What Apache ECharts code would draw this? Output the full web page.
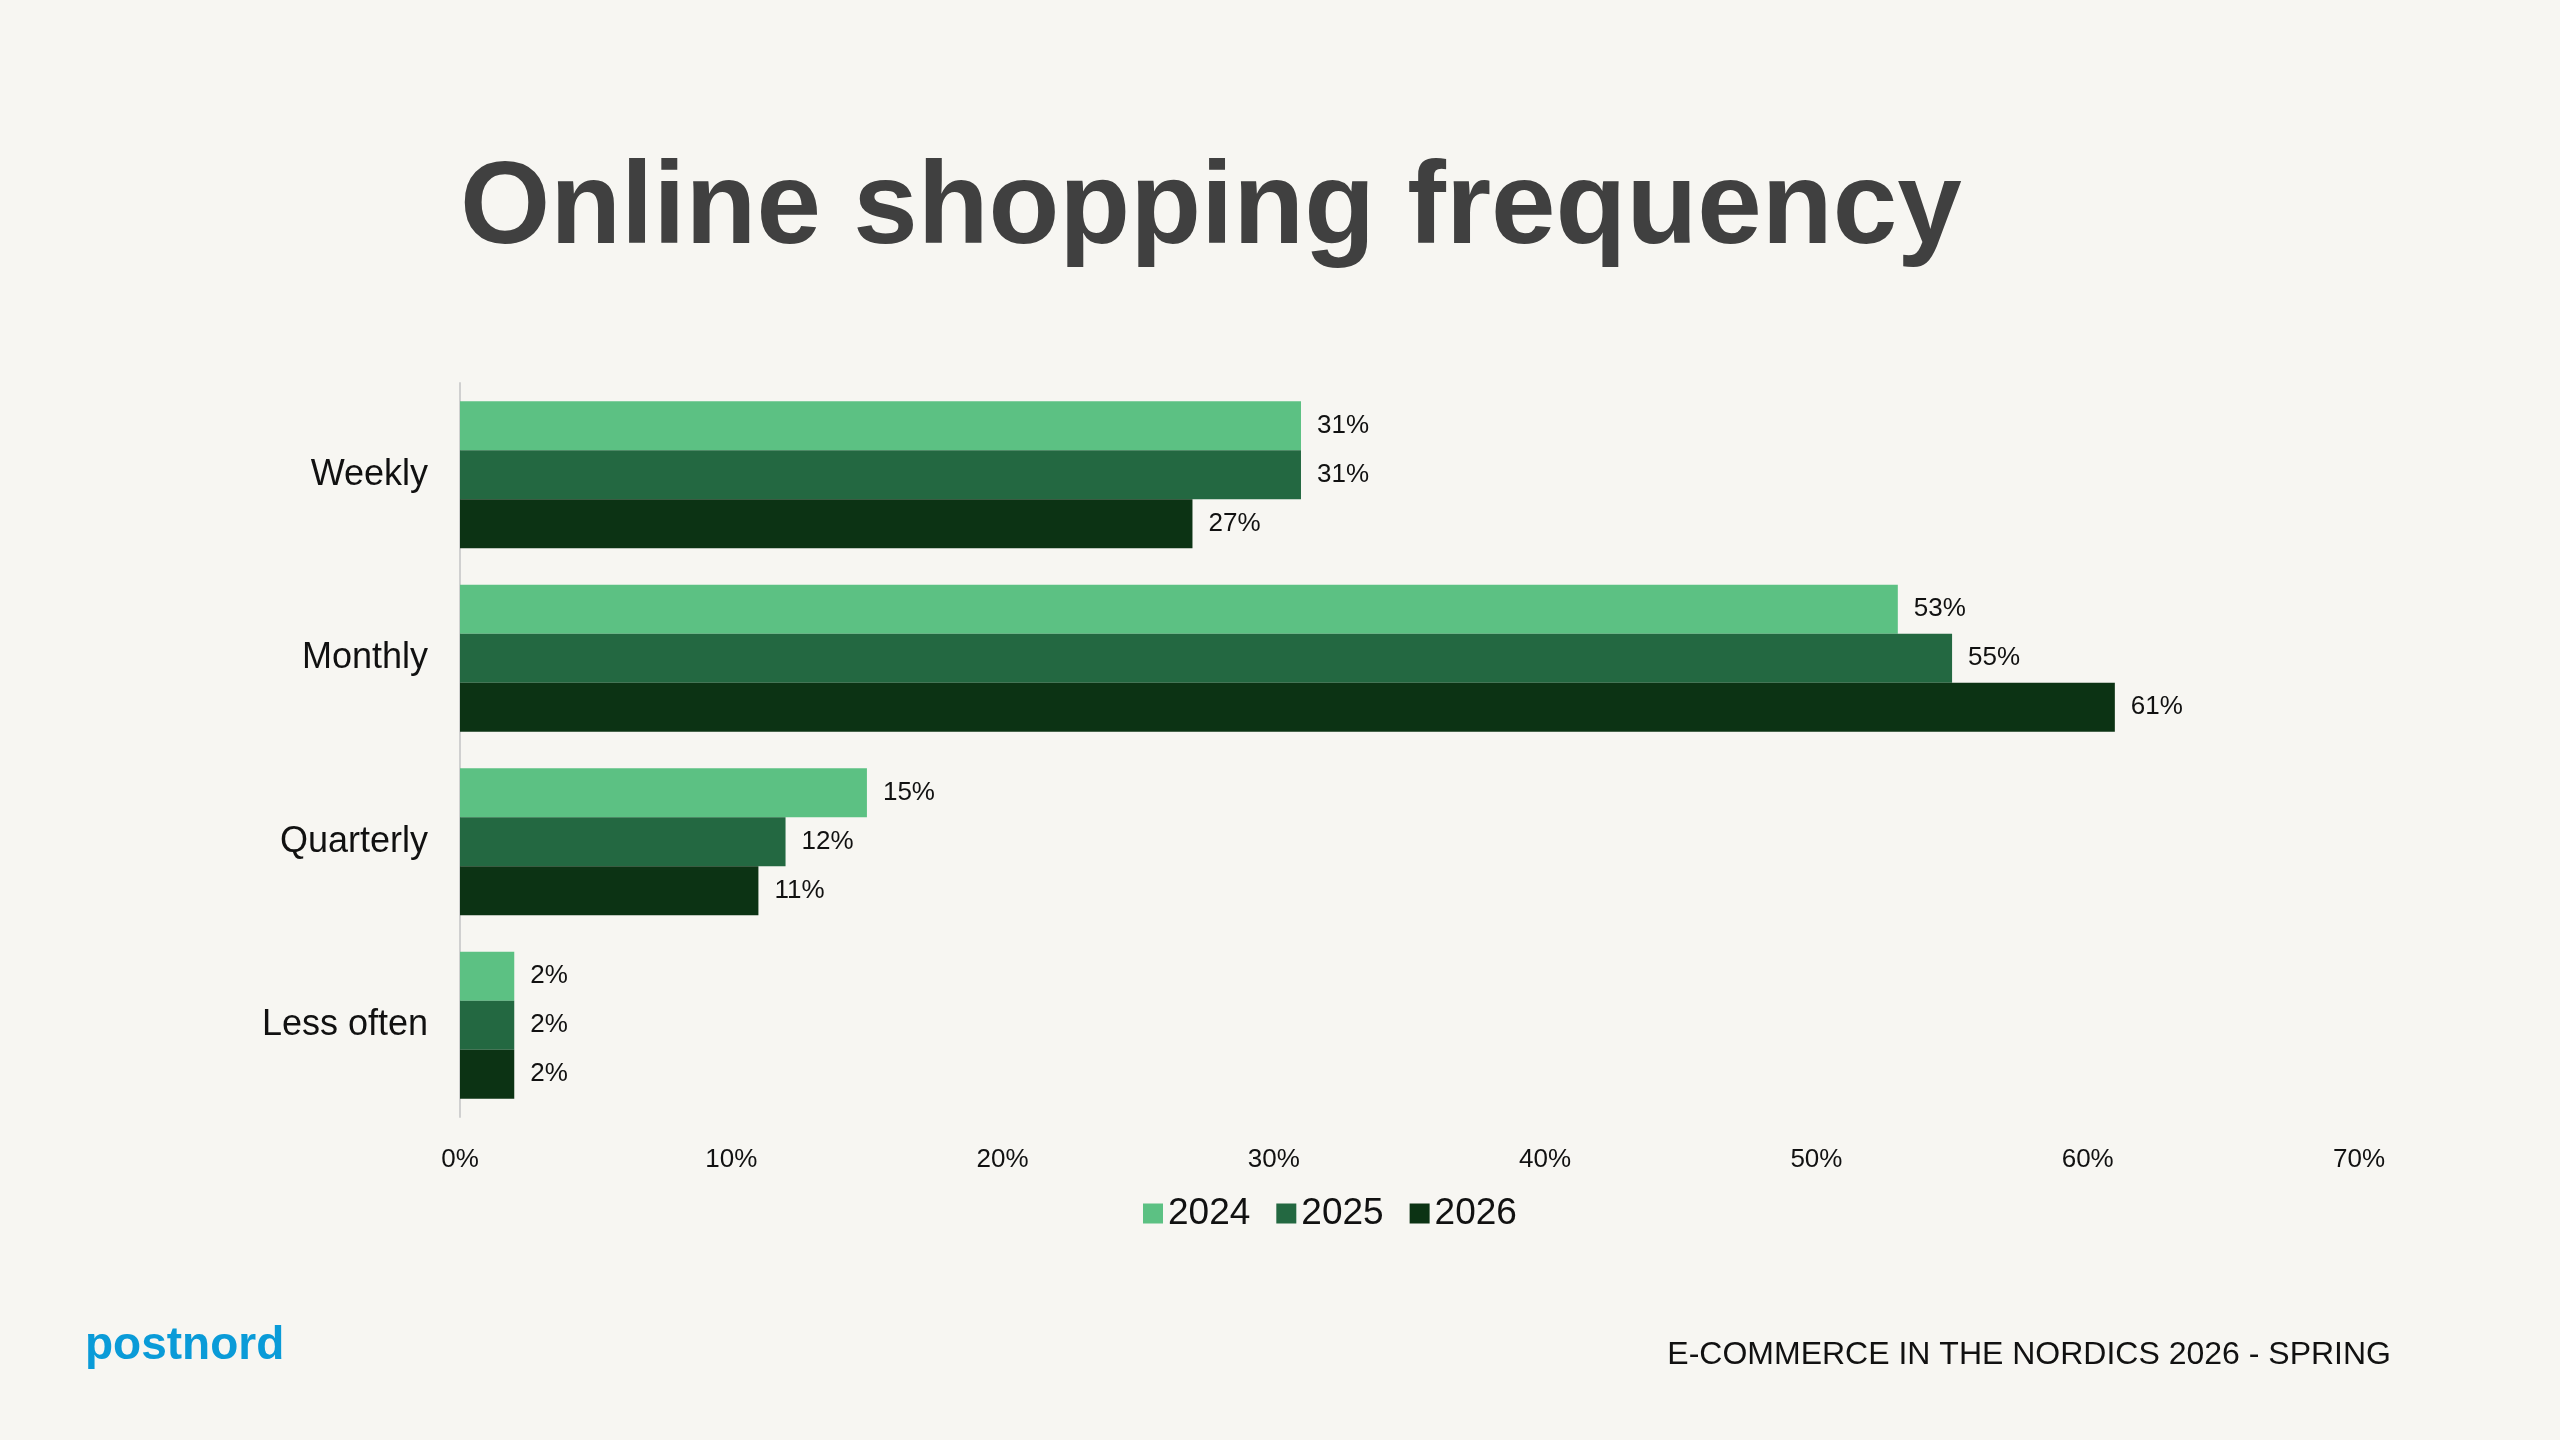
<!DOCTYPE html>
<html><head><meta charset="utf-8">
<script src="https://cdn.jsdelivr.net/npm/echarts@6/dist/echarts.min.js"></script>
<style>html,body{margin:0;padding:0;background:#f7f6f2}#c{width:2560px;height:1440px}</style>
</head><body><div id="c"></div>
<script>
const categories = ['Weekly','Monthly','Quarterly','Less often'];
const years = ['2024','2025','2026'];
const v2024 = [31,53,15,2];
const v2025 = [31,55,12,2];
const v2026 = [27,61,11,2];
const xTicks = [0,10,20,30,40,50,60,70];
const colors = ['#5cc183','#236841','#0c3314'];
const font = 'Liberation Sans, Arial, sans-serif';
const chart = echarts.init(document.getElementById('c'));
const vals=[v2024,v2025,v2026];
chart.setOption({
  backgroundColor:'#f7f6f2',
  title:[
    {text:'Online shopping frequency',left:455,top:148,textStyle:{fontFamily:font,fontSize:116,fontWeight:'bold',color:'#404040'}},
    {text:'postnord',left:80,top:1318,textStyle:{fontFamily:font,fontSize:46,fontWeight:'bold',color:'#0a9bd8'}},
    {text:'E-COMMERCE IN THE NORDICS 2026 - SPRING',right:164,top:1334,textStyle:{fontFamily:font,fontSize:32,fontWeight:'normal',color:'#111'}}
  ],
  legend:{data:years,left:1138,top:1190,itemWidth:20,itemHeight:20,itemGap:26,icon:'rect',
    textStyle:{fontFamily:font,fontSize:37,color:'#111'}},
  grid:{left:460,right:201,top:383,height:734},
  xAxis:{type:'value',min:0,max:70,interval:10,splitLine:{show:false},axisLine:{show:false},axisTick:{show:false},
    axisLabel:{fontFamily:font,fontSize:26,color:'#111',margin:30,formatter:v=>xTicks.includes(v)?v+'%':''}},
  yAxis:{type:'category',data:categories,inverse:true,axisTick:{show:false},
    axisLine:{lineStyle:{color:'#d0d0d0',width:2}},
    axisLabel:{fontFamily:font,fontSize:36,color:'#111',margin:32}},
  series:years.map((y,i)=>({name:y,type:'bar',data:vals[i],barGap:'0%',barCategoryGap:'20%',
    itemStyle:{color:colors[i]},
    label:{show:true,position:'right',distance:16,formatter:'{c}%',fontFamily:font,fontSize:26,color:'#111'}}))
});
</script></body></html>
